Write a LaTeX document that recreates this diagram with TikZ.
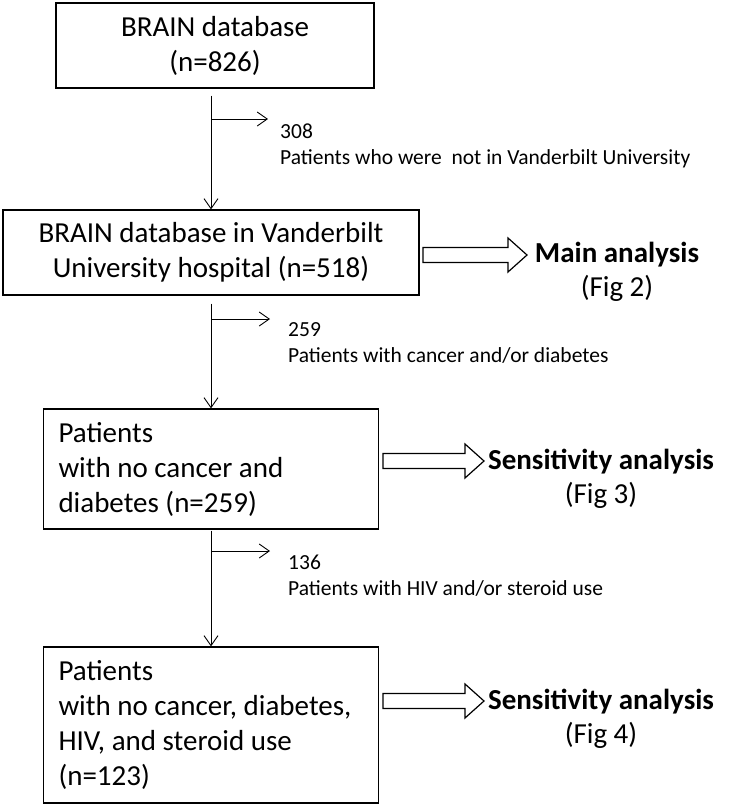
\documentclass[tikz,border=0pt]{standalone}
\usepackage{fontspec}
\setmainfont{Carlito}
\usetikzlibrary{shapes,arrows.meta,positioning}
\tikzstyle{stage} = [rectangle, draw=black, line width=1.2pt, inner sep=0pt, align=center, font=\fontsize{29}{35}\selectfont]
\tikzstyle{stageleft} = [stage, align=flush left, inner xsep=15pt, text width=305pt, minimum width=335pt]
\tikzstyle{drop} = [inner sep=0pt, align=left, anchor=north west, font=\fontsize{21.5}{26}\selectfont]
\tikzstyle{result} = [inner sep=0pt, align=center, font=\fontsize{29}{34}\selectfont]
\tikzstyle{hollow} = [draw=black, line width=1.2pt, line join=miter]
\tikzstyle{arrow} = [line width=0.9pt, -{Straight Barb[length=10pt,width=14pt]}]

\begin{document}
\begin{tikzpicture}[x=1pt, y=-1pt]
	\useasboundingbox (0,0) rectangle (730,807);
	\node (brain) [stage, minimum width=318pt, minimum height=85pt] at (215,45.5) {BRAIN database\\(n=826)};
	\node (vandy) [stage, minimum width=416pt, minimum height=85pt] at (211,252.5) {BRAIN database in Vanderbilt\\University hospital (n=518)};
	\node (nocancer) [stageleft, minimum height=120pt] at (211,469) {Patients\\with no cancer and\\diabetes (n=259)};
	\node (nohiv) [stageleft, minimum height=156pt] at (211,725) {Patients\\with no cancer, diabetes,\\HIV, and steroid use\\(n=123)};
	% excluded patients
	\node (drop1) [drop] at (280,124) {308\\Patients who were\ \ not in Vanderbilt University};
	\node (drop2) [drop] at (288,322) {259\\Patients with cancer and/or diabetes};
	\node (drop3) [drop] at (288,555) {136\\Patients with HIV and/or steroid use};
	\coordinate (split1) at (211,119);
	\coordinate (split2) at (211,319);
	\coordinate (split3) at (211,551);
	\coordinate (gap1) at (268,119);
	\coordinate (gap2) at (270,319);
	\coordinate (gap3) at (270,551);
	\draw [arrow, shorten <=7pt] (vandy.north |- brain.south) -- (vandy.north);
	\draw [arrow, shorten <=8pt] (vandy.south) -- (nocancer.north);
	\draw [arrow, shorten <=1pt] (nocancer.south) -- (nohiv.north);
	\draw [arrow] (split1) -- (gap1);
	\draw [arrow] (split2) -- (gap2);
	\draw [arrow] (split3) -- (gap3);
	% analyses
	\coordinate (tomain) at (423,255);
	\coordinate (tosens1) at (383,461);
	\coordinate (tosens2) at (383,701);
	\draw [hollow] (tomain) ++(0,-7.5) -- ++(85,0) -- ++(0,-9.5) -- ++(19,17) -- ++(-19,17) -- ++(0,-9.5) -- ++(-85,0) -- cycle;
	\draw [hollow] (tosens1) ++(0,-7.5) -- ++(82,0) -- ++(0,-9.5) -- ++(19,17) -- ++(-19,17) -- ++(0,-9.5) -- ++(-82,0) -- cycle;
	\draw [hollow] (tosens2) ++(0,-7.5) -- ++(82,0) -- ++(0,-9.5) -- ++(19,17) -- ++(-19,17) -- ++(0,-9.5) -- ++(-82,0) -- cycle;
	\node (main) [result] at (617,272) {\textbf{Main analysis}\\(Fig 2)};
	\node (sens1) [result] at (601,479) {\textbf{Sensitivity analysis}\\(Fig 3)};
	\node (sens2) [result] at (601,719) {\textbf{Sensitivity analysis}\\(Fig 4)};
\end{tikzpicture}
\end{document}
